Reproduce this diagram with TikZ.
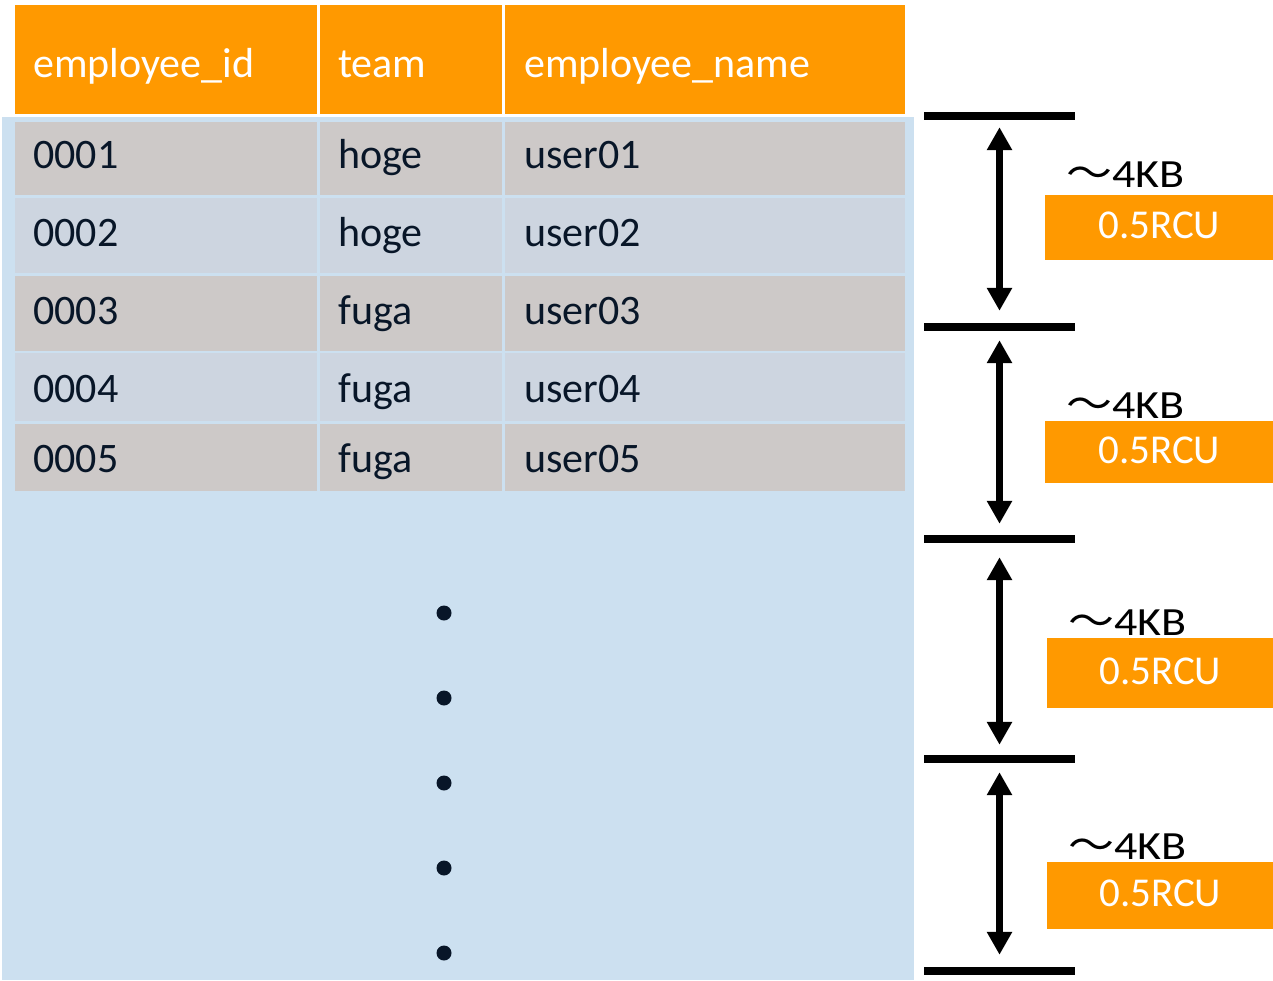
\documentclass[tikz,border=0pt]{standalone}
\usepackage{fontspec}
\usepackage{graphicx}
\setmainfont{Carlito}
\newfontfamily\jpfont{Noto Sans CJK JP}
\usetikzlibrary{arrows.meta}

\definecolor{awsorange}{RGB}{255,153,0}
\definecolor{tablebg}{RGB}{204,224,240}
\definecolor{rowgray}{RGB}{205,201,200}
\definecolor{rowblue}{RGB}{205,213,224}
\definecolor{ink}{RGB}{8,22,40}

\begin{document}
\begin{tikzpicture}[x=1pt,y=-1pt,
  headtxt/.style={anchor=base west, inner sep=0pt, text=white, font=\fontsize{42}{50}\selectfont},
  celltxt/.style={anchor=base west, inner sep=0pt, text=ink, font=\fontsize{42}{50}\selectfont},
  bar/.style={fill=black, inner sep=0pt, minimum width=151pt, minimum height=8pt},
  span/.style={line width=7pt, {Triangle[width=24pt,length=23pt]}-{Triangle[width=24pt,length=23pt]}},
  sizelbl/.style={anchor=base west, inner sep=0pt, font=\fontsize{40}{46}\selectfont},
  rcubox/.style={fill=awsorange, inner sep=0pt, anchor=north west, minimum width=#1},
  rcutxt/.style={text=white, inner sep=0pt, font=\fontsize{41}{48}\selectfont}
]
\useasboundingbox (0,0) rectangle (1273,980);
\fill[white] (0,0) rectangle (1273,980);

% table backdrop
\fill[tablebg] (2,117) rectangle (914,980);

% header cells
\fill[awsorange] (15,5) rectangle (316.5,114);
\fill[awsorange] (319.5,5) rectangle (502,114);
\fill[awsorange] (505,5) rectangle (905,114);
\node[headtxt] (h1) at (33,77) {employee\_id};
\node[headtxt] (h2) at (338,77) {team};
\node[headtxt] (h3) at (524,77) {employee\_name};

% data rows: top, bottom, baseline, fill, id, team, name
\foreach \top/\bot/\base/\col/\id/\team/\name [count=\r] in {
    122/195/168/rowgray/0001/hoge/user01,
    198/273/246/rowblue/0002/hoge/user02,
    276/351/324/rowgray/0003/fuga/user03,
    353/421/402/rowblue/0004/fuga/user04,
    424/491/472/rowgray/0005/fuga/user05}{
  \fill[\col] (15,\top) rectangle (316.5,\bot);
  \fill[\col] (319.5,\top) rectangle (502,\bot);
  \fill[\col] (505,\top) rectangle (905,\bot);
  \node[celltxt] (id\r) at (33,\base) {\id};
  \node[celltxt] (team\r) at (338,\base) {\team};
  \node[celltxt] (name\r) at (524,\base) {\name};
}

% ellipsis dots
\foreach \y in {613,698,783,868,953}
  \fill[ink] (444,\y) circle (7.5);

% boundary bars
\node[bar] (bar0) at (999.5,116) {};
\node[bar] (bar1) at (999.5,327) {};
\node[bar] (bar2) at (999.5,539) {};
\node[bar] (bar3) at (999.5,759) {};
\node[bar] (bar4) at (999.5,971) {};

% double-headed spans between bars
\draw[span, shorten <=7pt, shorten >=12pt] (bar0.south) -- (bar1.north);
\draw[span, shorten <=9pt, shorten >=11pt] (bar1.south) -- (bar2.north);
\draw[span, shorten <=14pt, shorten >=10pt] (bar2.south) -- (bar3.north);
\draw[span, shorten <=9pt, shorten >=12pt] (bar3.south) -- (bar4.north);

% size labels and capacity boxes
\foreach \lx/\ly/\bx/\by/\bh [count=\k] in {
    1066/187/1045/195/65,
    1066/418/1045/421/62,
    1068/635/1047/638/70,
    1068/859/1047/862/67}{
  \node[sizelbl] (kb\k) at (\lx,\ly) {\scalebox{1.15}[1]{{\jpfont ～}4KB}};
  \node[rcubox={1273pt-\bx pt}, minimum height=\bh pt] (rcu\k) at (\bx,\by) {};
  \node[rcutxt] (rcut\k) at ([yshift=2pt]rcu\k.center) {0.5RCU};
}
\end{tikzpicture}
\end{document}
